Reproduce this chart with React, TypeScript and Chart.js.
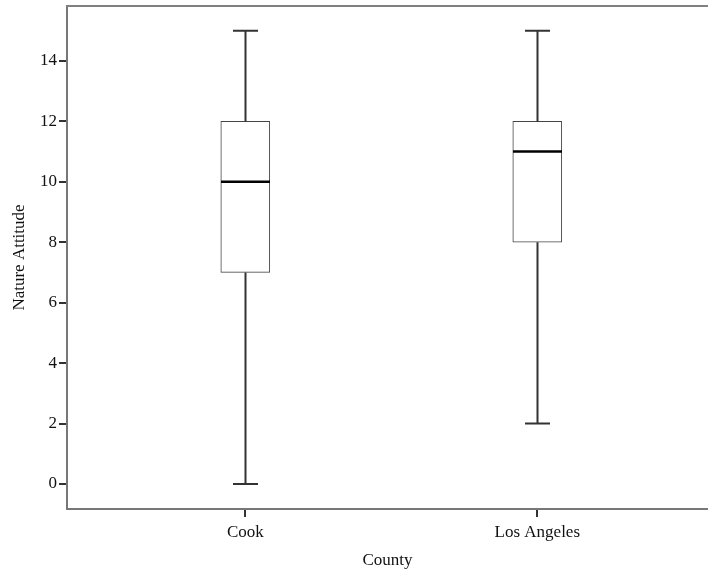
import React, { useEffect, useRef } from "react";
import { Chart, registerables } from "chart.js";

Chart.register(...registerables);

const categories = ["Cook", "Los Angeles"];
const minValues = [0, 2];
const q1Values = [7, 8];
const medianValues = [10, 11];
const q3Values = [12, 12];
const maxValues = [15, 15];
const yTickValues = [0, 2, 4, 6, 8, 10, 12, 14];

const FONT = "'Liberation Serif', 'Times New Roman', serif";

const boxPlugin = {
  id: "boxWhiskers",
  afterDatasetsDraw(chart: any) {
    const { ctx, chartArea, scales } = chart;
    const xs = scales.x;
    const ys = scales.y;
    ctx.save();
    categories.forEach((_, i) => {
      const x = Math.round(xs.getPixelForValue(i + 1)) + 0.5;
      const yMin = ys.getPixelForValue(minValues[i]);
      const yQ1 = ys.getPixelForValue(q1Values[i]);
      const yMed = ys.getPixelForValue(medianValues[i]);
      const yQ3 = ys.getPixelForValue(q3Values[i]);
      const yMax = ys.getPixelForValue(maxValues[i]);
      ctx.strokeStyle = "#333";
      ctx.lineWidth = 2;
      ctx.beginPath();
      ctx.moveTo(x, yQ1);
      ctx.lineTo(x, yMin);
      ctx.moveTo(x, yQ3);
      ctx.lineTo(x, yMax);
      ctx.moveTo(x - 12.5, yMin);
      ctx.lineTo(x + 12.5, yMin);
      ctx.moveTo(x - 12.5, yMax);
      ctx.lineTo(x + 12.5, yMax);
      ctx.stroke();
      ctx.strokeStyle = "#000";
      ctx.lineWidth = 2.5;
      ctx.beginPath();
      ctx.moveTo(x - 24.5, yMed);
      ctx.lineTo(x + 24.5, yMed);
      ctx.stroke();
    });
    ctx.strokeStyle = "#808080";
    ctx.lineWidth = 2;
    ctx.beginPath();
    ctx.moveTo(chartArea.left - 1, chartArea.top);
    ctx.lineTo(chartArea.right, chartArea.top);
    ctx.stroke();
    ctx.restore();
  },
};

export default function App() {
  const ref = useRef<HTMLCanvasElement>(null);
  useEffect(() => {
    document.body.style.margin = "0";
    const canvas = ref.current!;
    const chart = new Chart(canvas, {
      type: "bar",
      data: {
        datasets: [
          {
            data: categories.map((_, i) => ({ x: i + 1, y: [q1Values[i], q3Values[i]] })) as any,
            backgroundColor: "#ffffff",
            borderColor: "#444",
            borderWidth: 1,
            borderSkipped: false,
            barThickness: 49,
          },
        ],
      },
      options: {
        animation: false,
        responsive: false,
        maintainAspectRatio: false,
        layout: { padding: { top: 6, right: 0, left: 0, bottom: 0 } },
        plugins: {
          legend: { display: false },
          tooltip: { enabled: false },
        },
        scales: {
          x: {
            type: "linear",
            offset: false,
            min: 0.3894,
            max: 2.5846,
            afterBuildTicks: (scale: any) => {
              scale.ticks = categories.map((_, i) => ({ value: i + 1 }));
            },
            afterFit: (scale: any) => {
              scale.height = 62;
              scale.paddingLeft = 0;
              scale.paddingRight = 0;
            },
            ticks: {
              autoSkip: false,
              maxRotation: 0,
              padding: 5,
              color: "#111",
              font: { family: FONT, size: 17 },
              callback: (v: any) => categories[Math.round(v) - 1] ?? "",
            },
            grid: {
              offset: false,
              drawOnChartArea: false,
              drawTicks: true,
              tickLength: 8,
              color: "#333",
              lineWidth: 2,
            },
            border: { display: true, color: "#777", width: 2 },
            title: {
              display: true,
              text: "County",
              color: "#111",
              font: { family: FONT, size: 17 },
              padding: { top: 0, bottom: 0 },
            },
          },
          y: {
            type: "linear",
            min: -0.83,
            max: 15.82,
            afterBuildTicks: (scale: any) => {
              scale.ticks = yTickValues.map((v) => ({ value: v }));
            },
            afterFit: (scale: any) => {
              scale.width = 67;
              scale.paddingTop = 0;
              scale.paddingBottom = 0;
            },
            ticks: {
              padding: 2,
              color: "#111",
              font: { family: FONT, size: 17 },
            },
            grid: {
              drawOnChartArea: false,
              drawTicks: true,
              tickLength: 8,
              color: "#333",
              lineWidth: 2,
            },
            border: { display: true, color: "#777", width: 2 },
            title: {
              display: true,
              text: "Nature Attitude",
              color: "#111",
              font: { family: FONT, size: 17 },
              padding: { top: 9, bottom: 0 },
            },
          },
        },
      },
      plugins: [boxPlugin],
    });
    return () => chart.destroy();
  }, []);
  return <canvas ref={ref} width={708} height={571} style={{ display: "block" }} />;
}
